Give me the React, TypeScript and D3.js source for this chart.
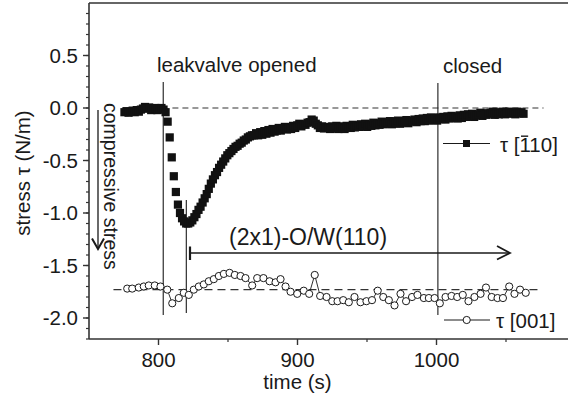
import React, { useEffect, useRef, useState } from "react";
import * as d3 from "d3";

// ---- data ----
const squareStart = 775.5; // s
const squareStep = 1.48; // s
const tau110: number[] = [
  -0.04, -0.03, -0.045, -0.035, -0.025, -0.04, -0.02, -0.035, -0.015, -0.005,
  0.01, -0.005, 0.005, -0.02, -0.005, 0.0, -0.02, -0.01, 0.0, -0.015,
  -0.04, -0.13, -0.28, -0.47, -0.65, -0.8, -0.92, -1.0, -1.05, -1.08, -1.1, -1.1,
  -1.09, -1.07, -1.04, -1.01, -0.97, -0.94, -0.9, -0.86, -0.82, -0.77, -0.72, -0.68,
  -0.64, -0.61, -0.57, -0.54, -0.51, -0.48, -0.45, -0.43, -0.41, -0.39, -0.37, -0.36,
  -0.34, -0.33, -0.31, -0.3, -0.28, -0.27, -0.26, -0.26,
  -0.24, -0.26, -0.23, -0.255, -0.22, -0.245, -0.21, -0.235, -0.2, -0.225, -0.215, -0.19,
  -0.215, -0.195, -0.18, -0.205, -0.185, -0.2, -0.17, -0.19, -0.165, -0.15, -0.175, -0.155,
  -0.16, -0.14, -0.135, -0.11, -0.12, -0.15, -0.165, -0.19, -0.175, -0.195, -0.18, -0.19,
  -0.2, -0.175, -0.195, -0.17, -0.2, -0.175, -0.19, -0.2, -0.17, -0.185, -0.19, -0.16,
  -0.185, -0.165, -0.18, -0.155, -0.175, -0.15, -0.18, -0.155, -0.17, -0.14, -0.165, -0.145,
  -0.16, -0.13, -0.155, -0.135,
  -0.15, -0.125, -0.155, -0.13, -0.145, -0.12, -0.15, -0.125, -0.14, -0.115,
  -0.145, -0.12, -0.13, -0.11, -0.135, -0.105, -0.125, -0.1, -0.125, -0.095,
  -0.12, -0.09, -0.115, -0.095, -0.12, -0.09, -0.105, -0.085, -0.11, -0.08,
  -0.1, -0.075, -0.095, -0.08, -0.1, -0.07, -0.095, -0.065, -0.085, -0.06,
  -0.08, -0.055, -0.085, -0.07, -0.06, -0.045, -0.075, -0.05, -0.065, -0.055,
  -0.045, -0.035, -0.065, -0.04, -0.06, -0.05, -0.035, -0.06, -0.045, -0.035,
  -0.055, -0.04, -0.06, -0.035, -0.05, -0.04, -0.055,
];
const tau110Times = tau110.map((_, i) => squareStart + i * squareStep);

const tau001Times: number[] = [
  777.5, 781.1, 785.8, 789.4, 793.0, 797.3, 801.4, 806.3, 809.9, 814.6, 818.2, 821.8,
  825.4, 829.0, 832.6, 836.2, 839.8, 843.4, 847.0, 851.1, 854.9, 859.0, 862.6, 867.4,
  871.0, 875.5, 879.9, 884.2, 887.8, 891.4, 895.0, 899.8, 904.5, 908.4, 912.4, 916.3,
  920.9, 925.0, 928.8, 932.9, 936.9, 941.0, 945.3, 949.6, 953.6, 957.7, 961.7, 965.7,
  969.8, 974.1, 978.1, 982.4, 986.3, 990.9, 994.5, 998.6, 1002.4, 1006.5, 1010.8, 1014.9,
  1018.9, 1023.0, 1027.3, 1031.7, 1035.6, 1039.7, 1043.9, 1047.8, 1052.3, 1056.1, 1060.1, 1064.2,
];
const tau001: number[] = [
  -1.72, -1.72, -1.71, -1.7, -1.69, -1.69, -1.7, -1.73, -1.86, -1.81, -1.76, -1.78,
  -1.73, -1.7, -1.68, -1.65, -1.63, -1.6, -1.58, -1.57, -1.59, -1.6, -1.62, -1.69,
  -1.62, -1.62, -1.65, -1.66, -1.63, -1.7, -1.75, -1.77, -1.74, -1.77, -1.59, -1.79,
  -1.8, -1.84, -1.84, -1.83, -1.85, -1.8, -1.85, -1.84, -1.83, -1.74, -1.8, -1.83,
  -1.88, -1.77, -1.84, -1.8, -1.78, -1.81, -1.81, -1.81, -1.86, -1.8, -1.79, -1.8,
  -1.78, -1.84, -1.8, -1.77, -1.71, -1.8, -1.81, -1.81, -1.7, -1.77, -1.73, -1.76,
];

const xTicks = [800, 900, 1000];
const xTickLabels = ["800", "900", "1000"];
const xMinorTicks = [850, 950, 1050];
const yTicks = [0.5, 0.0, -0.5, -1.0, -1.5, -2.0];
const yTickLabels = ["0.5", "0.0", "-0.5", "-1.0", "-1.5", "-2.0"];
const yMinorTicks = d3.range(-22, 10).map((v) => v / 10);

const markerTimes = [803.4, 820, 1001]; // leakvalve opened, min, closed
const refLevels = [0, -1.73];
const refSpans = [
  [810, 1077],
  [767.6, 1073.4],
];

const W = 568;
const H = 398;
const FONT = "'Liberation Sans', Arial, Helvetica, sans-serif";
const INK = "#1a1a1a";
const FS = 20.5;

export default function App() {
  const x = d3.scaleLinear().domain([750, 1100]).range([89, 575.5]);
  const y = d3.scaleLinear().domain([-2.2, 1.0]).range([339, 3]);

  const legendRef = useRef<SVGTextElement | null>(null);
  const [bar, setBar] = useState<{ x1: number; x2: number; y: number } | null>(null);
  useEffect(() => {
    const el = legendRef.current;
    if (!el) return;
    try {
      const r = el.getExtentOfChar(3);
      setBar({ x1: r.x + 1.5, x2: r.x + r.width - 1.2, y: r.y + r.height * 0.16 });
    } catch (e) {
      setBar(null);
    }
  }, []);

  const line001 = d3
    .line<number>()
    .x((_, i) => x(tau001Times[i]))
    .y((d) => y(d));

  const sq = 8.2;
  const cr = 3.6;

  return (
    <svg
      width={W}
      height={H}
      style={{ position: "absolute", left: 0, top: 0, background: "#fff" }}
      fontFamily={FONT}
    >
      <rect width={W} height={H} fill="#fff" />
      {/* frame */}
      <line x1={x(750)} x2={W} y1={y(1.0)} y2={y(1.0)} stroke="#333" strokeWidth={1.6} />
      <line x1={x(750)} x2={W} y1={y(-2.2)} y2={y(-2.2)} stroke="#333" strokeWidth={1.6} />
      <line x1={x(750)} x2={x(750)} y1={y(1.0)} y2={y(-2.2)} stroke="#333" strokeWidth={1.6} />

      {/* y ticks */}
      {yMinorTicks.map((v) => (
        <line key={"ym" + v} x1={x(750) - 3} x2={x(750)} y1={y(v)} y2={y(v)} stroke="#333" strokeWidth={1.2} />
      ))}
      {yTicks.map((v, i) => (
        <g key={"y" + v}>
          <line x1={x(750) - 6} x2={x(750)} y1={y(v)} y2={y(v)} stroke="#333" strokeWidth={1.4} />
          <text x={x(750) - 11} y={y(v)} dy="0.35em" textAnchor="end" fontSize={FS} fill={INK}>
            {yTickLabels[i]}
          </text>
        </g>
      ))}
      {/* x ticks */}
      {xMinorTicks.map((v) => (
        <line key={"xm" + v} x1={x(v)} x2={x(v)} y1={y(-2.2)} y2={y(-2.2) + 3} stroke="#333" strokeWidth={1.2} />
      ))}
      {xTicks.map((v, i) => (
        <g key={"x" + v}>
          <line x1={x(v)} x2={x(v)} y1={y(-2.2)} y2={y(-2.2) + 6} stroke="#333" strokeWidth={1.4} />
          <text x={x(v)} y={366.5} textAnchor="middle" fontSize={FS} fill={INK}>
            {xTickLabels[i]}
          </text>
        </g>
      ))}
      <text x={x(900)} y={389} textAnchor="middle" fontSize={FS} fill={INK}>
        time (s)
      </text>
      <text
        transform={`translate(30, ${173}) rotate(-90)`}
        textAnchor="middle"
        fontSize={FS}
        fill={INK}
      >
        stress τ (N/m)
      </text>

      {/* compressive stress arrow */}
      <line x1={98} x2={98} y1={110} y2={248} stroke={INK} strokeWidth={1.3} />
      <polyline points="92,238.5 98,249 104,238.5" fill="none" stroke={INK} strokeWidth={2} />
      <text transform="translate(103.5, 103) rotate(90)" fontSize={19.5} fill={INK}>
        compressive stress
      </text>

      {/* reference dashed lines */}
      {refLevels.map((v, i) => (
        <line
          key={"ref" + i}
          x1={x(refSpans[i][0])}
          x2={x(refSpans[i][1])}
          y1={y(v)}
          y2={y(v)}
          stroke="#333"
          strokeWidth={1.2}
          strokeDasharray={i === 0 ? "6,4" : "8,5"}
        />
      ))}

      {/* event lines */}
      <line x1={x(markerTimes[0])} x2={x(markerTimes[0])} y1={82} y2={315} stroke={INK} strokeWidth={1.1} />
      <line x1={x(markerTimes[1])} x2={x(markerTimes[1])} y1={200} y2={313} stroke={INK} strokeWidth={1.1} />
      <line x1={x(markerTimes[2])} x2={x(markerTimes[2])} y1={83} y2={315} stroke={INK} strokeWidth={1.1} />
      <text x={157} y={72} fontSize={FS} fill={INK}>
        leakvalve opened
      </text>
      <text x={443} y={73} fontSize={FS} fill={INK}>
        closed
      </text>

      {/* (2x1)-O/W(110) arrow */}
      <line x1={190} x2={510} y1={253} y2={253} stroke={INK} strokeWidth={1.4} />
      <line x1={190} x2={190} y1={246.5} y2={260} stroke={INK} strokeWidth={2.2} />
      <polyline points="497,246 510,253 497,259.5" fill="none" stroke={INK} strokeWidth={1.8} />
      <text x={229} y={245} fontSize={23} fill={INK}>
        (2x1)-O/W(110)
      </text>

      {/* tau 110 series */}
      {tau110.map((v, i) => (
        <rect
          key={"s" + i}
          x={x(tau110Times[i]) - sq / 2}
          y={y(v) - sq / 2}
          width={sq}
          height={sq}
          fill="#111"
        />
      ))}

      {/* tau 001 series */}
      <path d={line001(tau001) || ""} fill="none" stroke={INK} strokeWidth={0.9} />
      {tau001.map((v, i) => (
        <circle
          key={"c" + i}
          cx={x(tau001Times[i])}
          cy={y(v)}
          r={cr}
          fill="#fff"
          stroke={INK}
          strokeWidth={1}
        />
      ))}

      {/* legends */}
      <line x1={443} x2={490} y1={143.5} y2={143.5} stroke={INK} strokeWidth={1} />
      <rect x={466.5 - 3.5} y={143.5 - 3.5} width={7} height={7} fill="#111" />
      <text ref={legendRef} x={500} y={151.5} fontSize={FS} fill={INK}>
        τ [110]
      </text>
      {bar && (
        <line x1={bar.x1} x2={bar.x2} y1={bar.y} y2={bar.y} stroke={INK} strokeWidth={1.4} />
      )}

      <line x1={444} x2={490} y1={320} y2={320} stroke={INK} strokeWidth={1} />
      <circle cx={466.7} cy={320} r={cr} fill="#fff" stroke={INK} strokeWidth={1} />
      <text x={496} y={327.5} fontSize={FS} fill={INK}>
        τ [001]
      </text>
    </svg>
  );
}
